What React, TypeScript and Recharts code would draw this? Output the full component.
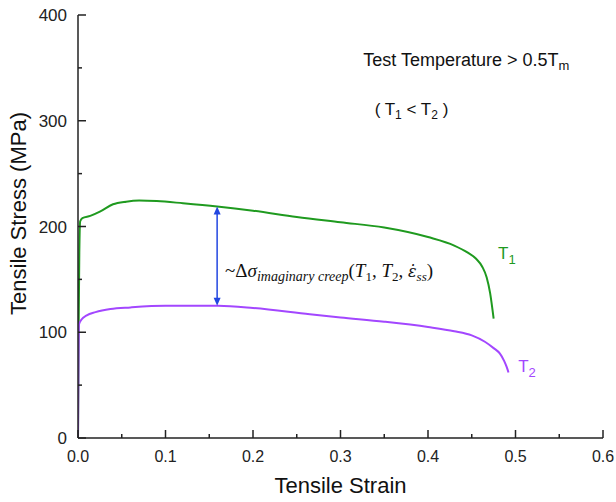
import React from "react";
import {
  LineChart,
  Line,
  XAxis,
  YAxis,
  ReferenceLine,
  ReferenceDot,
} from "recharts";

// T1 (lower temperature) curve
const t1Strain = [0, 0.0008, 0.0015, 0.0025, 0.005, 0.014, 0.025, 0.04, 0.055, 0.07, 0.09, 0.12, 0.159, 0.2, 0.25, 0.3, 0.35, 0.4, 0.43, 0.445, 0.455, 0.462, 0.467, 0.471, 0.475];
const t1Stress = [0, 110, 175, 205, 208, 210, 214, 221, 223.5, 224.5, 224, 222, 219, 215, 209, 204, 199, 190, 182, 175.5, 169.5, 162, 152, 137, 113];

// T2 (higher temperature) curve
const t2Strain = [0, 0.0005, 0.001, 0.004, 0.01, 0.02, 0.037, 0.06, 0.1, 0.16, 0.2, 0.265, 0.3, 0.35, 0.4, 0.43, 0.45, 0.465, 0.475, 0.482, 0.487, 0.49, 0.492];
const t2Stress = [0, 60, 107, 112, 116, 119, 122, 123.5, 125, 125, 123, 117, 114, 110, 105, 101, 97, 91, 85, 80, 73, 67, 62];

const xTicks = [0, 0.05, 0.1, 0.15, 0.2, 0.25, 0.3, 0.35, 0.4, 0.45, 0.5, 0.55, 0.6];
const yTicks = [0, 50, 100, 150, 200, 250, 300, 350, 400];

// arrow between the curves
const arrowStrain = 0.159;
const arrowLow = 125;
const arrowHigh = 219;

const t1Data = t1Strain.map((x, i) => ({ x, y: t1Stress[i] }));
const t2Data = t2Strain.map((x, i) => ({ x, y: t2Stress[i] }));

const FONT = "'Liberation Sans', Arial, sans-serif";
const SERIF = "'Liberation Serif', 'Times New Roman', serif";
const GREEN = "#1f9a1f";
const PURPLE = "#a347ff";
const BLUE = "#2246e0";
const AXIS = "#222";

const isMajor = (v: number, step: number) => Math.abs(v / step - Math.round(v / step)) < 1e-6;

const XTick = (props: any) => {
  const { x, y, payload } = props;
  const major = isMajor(payload.value, 0.1);
  const base = y - 12;
  return (
    <g>
      <line x1={x} x2={x} y1={base} y2={base - (major ? 8 : 4)} stroke={AXIS} strokeWidth={1.5} />
      {major && (
        <text x={x} y={y} dy="0.75em" textAnchor="middle" fontSize={16} fontFamily={FONT} fill="#222">
          {payload.value.toFixed(1)}
        </text>
      )}
    </g>
  );
};

const YTick = (props: any) => {
  const { x, y, payload } = props;
  const major = isMajor(payload.value, 100);
  const base = x + 11;
  return (
    <g>
      <line x1={base} x2={base + (major ? 8 : 4)} y1={y} y2={y} stroke={AXIS} strokeWidth={1.5} />
      {major && (
        <text x={x} y={y} dy="0.36em" textAnchor="end" fontSize={17} fontFamily={FONT} fill="#222">
          {payload.value}
        </text>
      )}
    </g>
  );
};

const Arrow = (props: any) => {
  const { x1, y1, y2 } = props;
  const top = Math.min(y1, y2);
  const bot = Math.max(y1, y2);
  return (
    <g>
      <line x1={x1} x2={x1} y1={top + 3} y2={bot - 3} stroke={BLUE} strokeWidth={1.5} />
      <polygon points={`${x1},${top} ${x1 - 3.5},${top + 8} ${x1 + 3.5},${top + 8}`} fill={BLUE} />
      <polygon points={`${x1},${bot} ${x1 - 3.5},${bot - 8} ${x1 + 3.5},${bot - 8}`} fill={BLUE} />
    </g>
  );
};

const TempNote = ({ cx, cy }: any) => (
  <text x={cx} y={cy} fontSize={18} fontFamily={FONT} fill="#111">
    Test Temperature &gt; 0.5T
    <tspan fontSize={13} dy={4}>m</tspan>
  </text>
);

const OrderNote = ({ cx, cy }: any) => (
  <text x={cx} y={cy} fontSize={17} fontFamily={FONT} fill="#111">
    ( T<tspan fontSize={12} dy={4}>1</tspan>
    <tspan dy={-4}> &lt; T</tspan>
    <tspan fontSize={12} dy={4}>2</tspan>
    <tspan dy={-4}> )</tspan>
  </text>
);

const DeltaNote = ({ cx, cy }: any) => (
  <text x={cx} y={cy} fontSize={19} fontFamily={SERIF} fill="#111">
    ~Δ<tspan fontStyle="italic">σ</tspan>
    <tspan fontStyle="italic" fontSize={14} dy={4}>imaginary creep</tspan>
    <tspan dy={-4}>(</tspan>
    <tspan fontStyle="italic">T</tspan>
    <tspan fontSize={13} dy={4}>1</tspan>
    <tspan dy={-4}>, </tspan>
    <tspan fontStyle="italic">T</tspan>
    <tspan fontSize={13} dy={4}>2</tspan>
    <tspan dy={-4}>, </tspan>
    <tspan fontStyle="italic" fontFamily="'DejaVu Serif', serif" fontSize={16}>ε̇</tspan>
    <tspan fontStyle="italic" fontSize={13} dy={4}>ss</tspan>
    <tspan dy={-4}>)</tspan>
  </text>
);

const CurveTag = (color: string, idx: string) => ({ cx, cy }: any) => (
  <text x={cx} y={cy} fontSize={17} fontFamily={FONT} fill={color}>
    T<tspan fontSize={13} dy={5}>{idx}</tspan>
  </text>
);

const YLabel = ({ viewBox }: any) => {
  const x = viewBox.x + 26;
  const y = viewBox.y + viewBox.height / 2 - 13;
  return (
    <text x={x} y={y} transform={`rotate(-90 ${x} ${y})`} textAnchor="middle" fontSize={22} fontFamily={FONT} fill="#111">
      Tensile Stress (MPa)
    </text>
  );
};

export default function App() {
  return (
    <div style={{ position: "absolute", left: 0, top: 0, width: 616, height: 502, background: "#fff" }}>
      <LineChart width={616} height={502} margin={{ top: 15, right: 13, bottom: 0, left: 0 }}>
        <XAxis
          dataKey="x"
          type="number"
          domain={[0, 0.6]}
          ticks={xTicks}
          interval={0}
          height={64}
          tickSize={0}
          tickMargin={12}
          tickLine={false}
          tick={<XTick />}
          axisLine={{ stroke: AXIS, strokeWidth: 1.5 }}
          allowDataOverflow
          label={{ value: "Tensile Strain", position: "insideBottom", offset: 9, fontSize: 22, fontFamily: FONT, fill: "#111" }}
        />
        <XAxis
          xAxisId="top"
          orientation="top"
          type="number"
          domain={[0, 0.6]}
          height={0}
          tick={false}
          tickLine={false}
          axisLine={{ stroke: AXIS, strokeWidth: 1.5 }}
        />
        <YAxis
          type="number"
          domain={[0, 400]}
          ticks={yTicks}
          interval={0}
          width={78}
          tickSize={0}
          tickMargin={11}
          tickLine={false}
          tick={<YTick />}
          axisLine={{ stroke: AXIS, strokeWidth: 1.5 }}
          allowDataOverflow
          label={<YLabel />}
        />
        <YAxis
          yAxisId="right"
          orientation="right"
          type="number"
          domain={[0, 400]}
          width={0}
          tick={false}
          tickLine={false}
          axisLine={{ stroke: AXIS, strokeWidth: 1.5 }}
        />
        <Line data={t1Data} dataKey="y" type="monotone" stroke={GREEN} strokeWidth={2} dot={false} isAnimationActive={false} />
        <Line data={t2Data} dataKey="y" type="monotone" stroke={PURPLE} strokeWidth={2} dot={false} isAnimationActive={false} />
        <ReferenceLine
          segment={[{ x: arrowStrain, y: arrowLow }, { x: arrowStrain, y: arrowHigh }]}
          stroke={BLUE}
          shape={(p: any) => <Arrow {...p} />}
        />
        <ReferenceDot x={0.326} y={352} r={0} shape={(p: any) => <TempNote {...p} />} />
        <ReferenceDot x={0.339} y={305} r={0} shape={(p: any) => <OrderNote {...p} />} />
        <ReferenceDot x={0.168} y={152} r={0} shape={(p: any) => <DeltaNote {...p} />} />
        <ReferenceDot x={0.48} y={169} r={0} shape={CurveTag(GREEN, "1")} />
        <ReferenceDot x={0.503} y={62} r={0} shape={CurveTag(PURPLE, "2")} />
      </LineChart>
    </div>
  );
}
